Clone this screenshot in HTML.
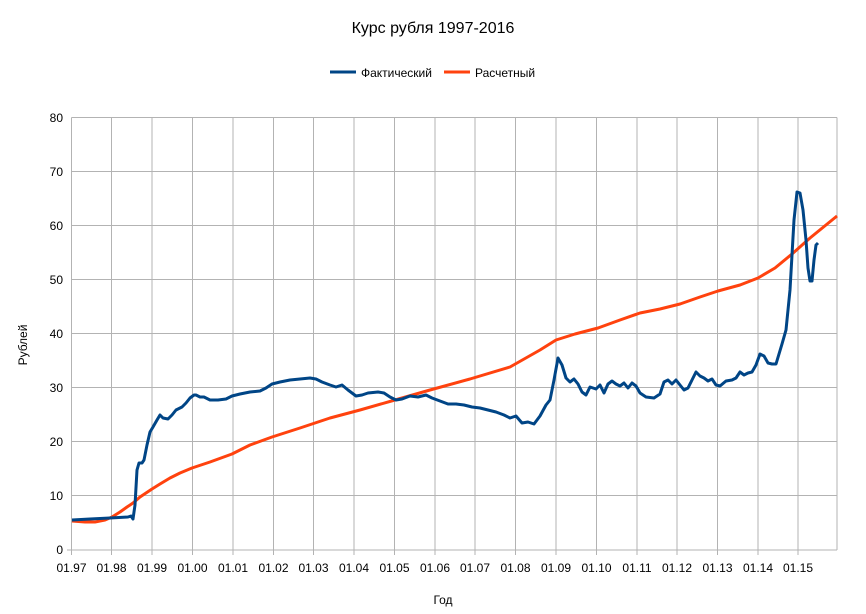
<!DOCTYPE html>
<html><head><meta charset="utf-8"><style>body{margin:0;background:#fff}svg{display:block}text{font-family:"Liberation Sans",sans-serif;fill:#000}</style></head><body>
<svg width="866" height="614" viewBox="0 0 866 614">
<text x="433" y="33" font-size="16" text-anchor="middle">Курс рубля 1997-2016</text>
<line x1="330" y1="72" x2="356" y2="72" stroke="#004586" stroke-width="3"/>
<text x="361" y="77" font-size="12">Фактический</text>
<line x1="444" y1="72" x2="470" y2="72" stroke="#ff420e" stroke-width="3"/>
<text x="475" y="77" font-size="12">Расчетный</text>
<g stroke="#b3b3b3" stroke-width="1" fill="none">
<path d="M71.5 117.5H837M71.5 171.5H837M71.5 225.5H837M71.5 279.5H837M71.5 333.5H837M71.5 387.5H837M71.5 441.5H837M71.5 495.5H837M71.5 550H837"/>
<path d="M71.5 117.5V555M111.5 117.5V555M152 117.5V555M192.5 117.5V555M233 117.5V555M273.5 117.5V555M313.5 117.5V555M354 117.5V555M394.5 117.5V555M435 117.5V555M475 117.5V555M515.5 117.5V555M556 117.5V555M596.5 117.5V555M637 117.5V555M677 117.5V555M717.5 117.5V555M758 117.5V555M798 117.5V555M837 117.5V550"/>
<path d="M67 550H71.5"/>
</g>
<g font-size="12" text-anchor="end">
<text x="63" y="122">80</text><text x="63" y="176">70</text><text x="63" y="230">60</text><text x="63" y="284">50</text><text x="63" y="338">40</text><text x="63" y="392">30</text><text x="63" y="446">20</text><text x="63" y="500">10</text><text x="63" y="554">0</text>
</g>
<g font-size="12" text-anchor="middle">
<text x="71.5" y="572">01.97</text><text x="111.5" y="572">01.98</text><text x="152" y="572">01.99</text><text x="192.5" y="572">01.00</text><text x="233" y="572">01.01</text><text x="273.5" y="572">01.02</text><text x="313.5" y="572">01.03</text><text x="354" y="572">01.04</text><text x="394.5" y="572">01.05</text><text x="435" y="572">01.06</text><text x="475" y="572">01.07</text><text x="515.5" y="572">01.08</text><text x="556" y="572">01.09</text><text x="596.5" y="572">01.10</text><text x="637" y="572">01.11</text><text x="677" y="572">01.12</text><text x="717.5" y="572">01.13</text><text x="758" y="572">01.14</text><text x="798" y="572">01.15</text>
</g>
<text x="443" y="604" font-size="12" text-anchor="middle">Год</text>
<text x="0" y="0" font-size="12" text-anchor="middle" transform="translate(27,345) rotate(-90)">Рублей</text>
<polyline fill="none" stroke="#ff420e" stroke-width="3" stroke-linejoin="round" points="72,521 85,522 95,522 105,520 112,517 120,512 127,507 133,503 140,497 146,493 152,489 160,484 170,478 180,473 192,468 210,462 232,454 250,445 272,437 300,428 330,418 360,410 395,400 430,390 470,379 510,367 540,350 556,340 575,334 598,328 620,320 640,313 660,309 680,304 700,297 718,291 740,285 758,278 775,268 792,254 810,238 837,216"/>
<polyline fill="none" stroke="#004586" stroke-width="3" stroke-linejoin="round" points="72,520 90,519 110,518 128,517 131,516 133,519 135,505 137,470 139,463 142,463 144,460 147,445 150,432 153,427 157,420 160,415 163,418 168,419 172,415 176,410 182,407 186,403 190,398 194,395 196,395 200,397 204,397 210,400 218,400 226,399 232,396 240,394 250,392 260,391 266,388 272,384 280,382 290,380 300,379 310,378 316,379 322,382 330,385 336,387 342,385 348,390 356,396 362,395 368,393 378,392 384,393 390,397 396,400 402,399 410,396 418,397 426,395 432,398 440,401 448,404 456,404 464,405 472,407 480,408 488,410 496,412 504,415 510,418 516,416 522,423 528,422 534,424 540,416 546,405 550,400 554,380 558,358 562,365 566,378 570,382 574,379 578,384 582,392 586,395 590,387 596,389 600,385 604,393 608,384 612,381 616,384 620,386 624,383 628,388 632,383 636,386 640,393 646,397 654,398 660,394 664,382 668,380 672,384 676,380 680,385 684,390 688,388 692,380 696,372 700,376 704,378 708,381 712,379 716,385 720,386 726,381 732,380 736,378 740,372 744,375 748,373 752,372 756,365 760,354 764,356 768,363 772,364 776,364 782,344 786,330 790,290 794,220 797,192 800,193 803,210 806,240 808,268 810,281 812,281 814,260 816,245 818,243"/>
</svg>
</body></html>
